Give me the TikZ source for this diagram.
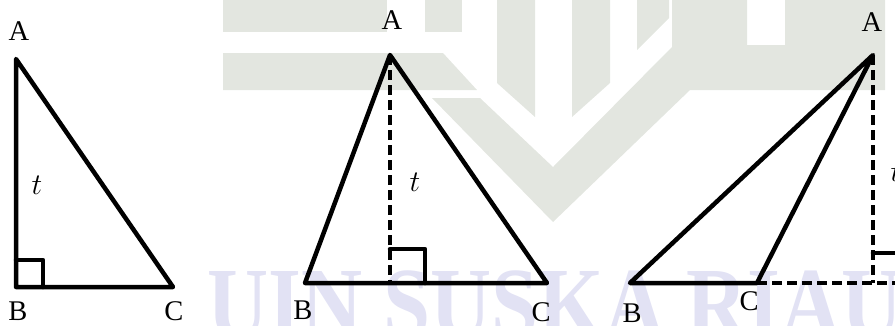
\RequirePackage{fix-cm}
\documentclass[tikz,border=0pt]{standalone}
\usepackage{fontspec}
\setmainfont{Liberation Serif}
\definecolor{logo}{RGB}{227,230,224}
\definecolor{wmtext}{RGB}{226,226,244}
\begin{document}
\begin{tikzpicture}[x=1pt,y=-1pt,
  edge/.style={line width=4.5pt, line join=round, line cap=round},
  dashline/.style={line width=4.5pt, dash pattern=on 10pt off 5pt},
  lbl/.style={font=\fontsize{28.5}{30}\selectfont, inner sep=0pt},
  hgt/.style={font=\fontsize{30}{32}\selectfont, inner sep=0pt},
  wm/.style={fill=logo}]
\useasboundingbox (0,0) rectangle (895,325);
% ---- watermark (logo + text) ----
\fill[wm] (223,0) rectangle (387,32);
\fill[wm] (425,0) rectangle (462,32);
\fill[wm] (223,53) -- (443,53) -- (477,90) -- (223,90) -- cycle;
\fill[wm] (497,0) -- (535,0) -- (535,117) -- (497,83) -- cycle;
\fill[wm] (572,0) -- (610,0) -- (610,83) -- (572,117) -- cycle;
\fill[wm] (637,0) -- (669,0) -- (669,18) -- (637,50) -- cycle;
\fill[wm] (553,222) -- (432,98) -- (480,98) -- (553,167) -- (672,47) -- (672,0)
  -- (747,0) -- (747,45) -- (785,45) -- (785,0) -- (885,0) -- (885,90) -- (690,90) -- cycle;
\node[anchor=base west, text=wmtext, font=\fontsize{89}{89}\selectfont\bfseries, inner sep=0pt,
  xscale=0.95, yscale=1.15] (wmt) at (207,338) {UIN SUSKA RIAU};
% ---- figure 1 ----
\coordinate (A1) at (16,59);
\coordinate (B1) at (16,287);
\coordinate (C1) at (173,287);
\coordinate (S1a) at (16,260);
\coordinate (S1b) at (43,260);
\coordinate (S1c) at (43,287);
\draw[edge] (A1) -- (B1) -- (C1) -- cycle;
\draw[edge] (S1a) -- (S1b) -- (S1c);
\node[lbl] (lA1) at (19,31) {A};
\node[lbl] (lB1) at (18,311) {B};
\node[lbl] (lC1) at (174,311) {C};
\node[hgt] (lt1) at (37,185) {$t$};
% ---- figure 2 ----
\coordinate (A2) at (390,55);
\coordinate (B2) at (305,283);
\coordinate (C2) at (547,283);
\coordinate (H2) at (390,283);
\coordinate (S2a) at (390,249);
\coordinate (S2b) at (425,249);
\coordinate (S2c) at (425,283);
\draw[edge] (A2) -- (B2) -- (C2) -- cycle;
\draw[dashline] (A2) -- (H2);
\draw[edge] (S2a) -- (S2b) -- (S2c);
\node[lbl] (lA2) at (392,20) {A};
\node[lbl] (lB2) at (303,310) {B};
\node[lbl] (lC2) at (541,312) {C};
\node[hgt] (lt2) at (415,182) {$t$};
% ---- figure 3 ----
\coordinate (A3) at (873,55);
\coordinate (B3) at (630,283);
\coordinate (C3) at (757,283);
\coordinate (H3) at (873,283);
\coordinate (E3) at (905,283);
\coordinate (S3a) at (873,253);
\coordinate (S3b) at (906,253);
\coordinate (S3c) at (906,283);
\draw[edge] (A3) -- (B3) -- (C3) -- cycle;
\draw[dashline] (A3) -- (H3);
\draw[dashline] (C3) -- (E3);
\draw[edge] (S3a) -- (S3b) -- (S3c);
\node[lbl] (lA3) at (872,22) {A};
\node[lbl] (lB3) at (632,313) {B};
\node[lbl] (lC3) at (749,301) {C};
\node[hgt] (lt3) at (896,172) {$t$};
\end{tikzpicture}
\end{document}
